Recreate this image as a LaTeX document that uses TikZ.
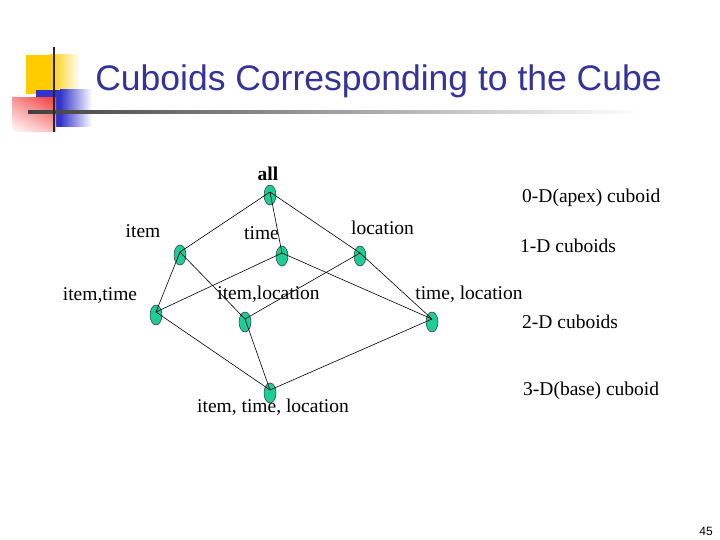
\documentclass[tikz,border=0pt]{standalone}
\usepackage{fontspec}
\setmainfont{Liberation Serif}
\newfontfamily\titlefont{Liberation Sans}
\usetikzlibrary{shapes.geometric,shadings}
\definecolor{titleblue}{RGB}{51,51,153}
\definecolor{nodegreen}{RGB}{30,205,150}
\definecolor{decoyellow}{RGB}{255,204,0}
\definecolor{decoblue}{RGB}{51,51,204}
\definecolor{decored}{RGB}{240,60,60}
\tikzset{
  cub/.style={ellipse, draw=black!80, line width=0.5pt, fill=nodegreen, minimum width=12pt, minimum height=20pt, inner sep=0pt},
  lbl/.style={font=\fontsize{19.5}{22}\selectfont, anchor=base, inner sep=0pt},
  lvl/.style={font=\fontsize{19.5}{22}\selectfont, anchor=base west, inner sep=0pt},
  edge/.style={line width=0.6pt, black}
}
\begin{document}
\begin{tikzpicture}[x=1pt,y=-1pt]
\useasboundingbox (0,0) rectangle (720,540);
\fill[white] (0,0) rectangle (720,540);
% decoration
\fill[decoyellow] (26,55) rectangle (50,94);
\shade[left color=decoyellow, right color=white] (50,55) rectangle (80,94);
\fill[decoblue] (36,90) rectangle (60,127);
\shade[left color=decoblue, right color=white] (60,90) rectangle (92,127);
\shade[upper right=decored, upper left=decored!55, lower right=decored!35, lower left=white] (12,98) rectangle (56,132);
\shade[left color=black!75, right color=white] (28,110.5) rectangle (640,113.5);
\draw[line width=2.2pt, black!85] (54,47) -- (54,132);
% title
\node[font=\titlefont\fontsize{35.5}{40}\selectfont, text=titleblue, anchor=base, inner sep=0pt] (title) at (378.5,91) {Cuboids Corresponding to the Cube};
% nodes
\node[cub] (all) at (270,195) {};
\node[cub] (item) at (180,255) {};
\node[cub] (time) at (282,256) {};
\node[cub] (loc) at (360,256) {};
\node[cub] (it) at (156,315) {};
\node[cub] (il) at (245,322) {};
\node[cub] (tl) at (432,322) {};
\node[cub] (itl) at (270,393) {};
% edges
\foreach \a/\b in {all/item, all/time, all/loc, item/it, item/il, time/it, time/tl, loc/il, loc/tl, it/itl, il/itl, tl/itl}
  \draw[edge] ([yshift=3pt]\a.center) -- ([yshift=3pt]\b.center);
% labels
\node[lbl, font=\fontsize{19.5}{22}\selectfont\bfseries] (tall) at (268,181) {all};
\node[lbl] (titem) at (143,237) {item};
\node[lbl] (ttime) at (261.5,240) {time};
\node[lbl] (tloc) at (382.5,234) {location};
\node[lbl] (tit) at (100,300) {item,time};
\node[lbl] (til) at (268.5,299) {item,location};
\node[lbl] (ttl) at (469,299) {time, location};
\node[lbl] (titl) at (273,412) {item, time, location};
\node[lvl] (l0) at (522,203) {0-D(apex) cuboid};
\node[lvl] (l1) at (520,252) {1-D cuboids};
\node[lvl] (l2) at (522,328) {2-D cuboids};
\node[lvl] (l3) at (523,395) {3-D(base) cuboid};
\node[font=\titlefont\fontsize{12}{14}\selectfont, anchor=base, inner sep=0pt] (pg) at (706,535) {45};
\end{tikzpicture}
\end{document}
